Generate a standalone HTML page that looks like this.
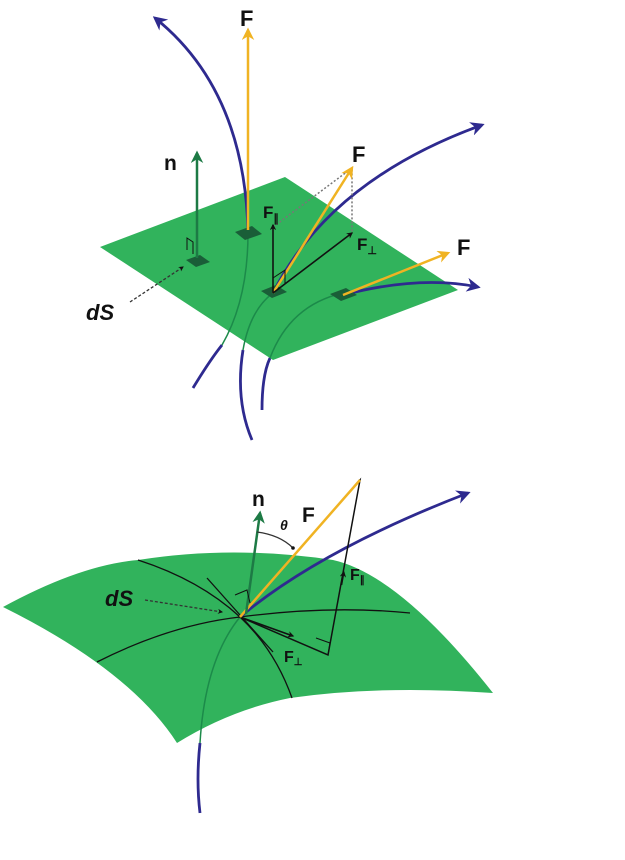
<!DOCTYPE html>
<html><head><style>
html,body{margin:0;padding:0;background:#fff;width:625px;height:860px;overflow:hidden}
svg text{font-family:"Liberation Sans",sans-serif;font-weight:bold;fill:#111}
</style></head><body>
<svg width="625" height="860" viewBox="0 0 625 860" xmlns="http://www.w3.org/2000/svg">
<defs>
<marker id="ab" viewBox="0 0 10 10" refX="8" refY="5" markerWidth="5" markerHeight="5" orient="auto"><path d="M0,0L10,5L0,10L3,5z" fill="#2e2a8f"/></marker>
<marker id="ay" viewBox="0 0 10 10" refX="8" refY="5" markerWidth="5" markerHeight="5" orient="auto"><path d="M0,0L10,5L0,10L3,5z" fill="#f0b323"/></marker>
<marker id="ag" viewBox="0 0 10 10" refX="8" refY="5" markerWidth="5" markerHeight="5" orient="auto"><path d="M0,0L10,5L0,10L3,5z" fill="#1d7a45"/></marker>
<marker id="ak" viewBox="0 0 10 10" refX="8" refY="5" markerWidth="4" markerHeight="4" orient="auto"><path d="M0,0L10,5L0,10L3,5z" fill="#111"/></marker>
</defs>
<!-- TOP -->
<path d="M193,388 Q210,360 222,345" stroke="#2e2a8f" stroke-width="2.8" fill="none"/>
<path d="M252,440 Q235,400 243,350" stroke="#2e2a8f" stroke-width="2.8" fill="none"/>
<path d="M262,410 Q262,375 270,358" stroke="#2e2a8f" stroke-width="2.8" fill="none"/>
<polygon points="100,247 285,177 458,290 273,360" fill="#31b35c"/>
<path d="M248,233 Q248,300 222,345" stroke="#1c8a4a" stroke-width="1.5" fill="none"/>
<path d="M243,350 Q250,310 273,293" stroke="#1c8a4a" stroke-width="1.5" fill="none"/>
<path d="M270,358 Q290,305 343,293" stroke="#1c8a4a" stroke-width="1.5" fill="none"/>
<path d="M248,233 Q245,90 155,18" stroke="#2e2a8f" stroke-width="2.8" fill="none" marker-end="url(#ab)"/>
<path d="M273,293 Q330,180 482,125" stroke="#2e2a8f" stroke-width="2.8" fill="none" marker-end="url(#ab)"/>
<path d="M343,295 Q420,275 478,287" stroke="#2e2a8f" stroke-width="2.8" fill="none" marker-end="url(#ab)"/>
<polygon points="235,232 252,226 262,234 245,240" fill="#1a5e38"/>
<polygon points="186,260 200,255 210,262 196,267" fill="#1a5e38"/>
<polygon points="261,291 276,285 287,292 272,298" fill="#1a5e38"/>
<polygon points="330,294 346,288 357,295 341,301" fill="#1a5e38"/>
<path d="M273,227 L352,168 L352,233" stroke="#777" stroke-width="1.5" stroke-dasharray="2,2" fill="none"/>
<path d="M130,302 L183,267" stroke="#333" stroke-width="1.3" stroke-dasharray="3,2" fill="none" marker-end="url(#ak)"/>
<line x1="197" y1="258" x2="197" y2="153" stroke="#1d7a45" stroke-width="2.5" marker-end="url(#ag)"/>
<path d="M187,250 L187,238 L193,242 L193,254" stroke="#111" stroke-width="1" fill="none"/>
<line x1="248" y1="230" x2="248" y2="30" stroke="#f0b323" stroke-width="2.5" marker-end="url(#ay)"/>
<line x1="273" y1="293" x2="352" y2="168" stroke="#f0b323" stroke-width="2.5" marker-end="url(#ay)"/>
<line x1="343" y1="295" x2="448" y2="253" stroke="#f0b323" stroke-width="2.5" marker-end="url(#ay)"/>
<line x1="273" y1="293" x2="273" y2="225" stroke="#111" stroke-width="1.6" marker-end="url(#ak)"/>
<line x1="273" y1="293" x2="352" y2="233" stroke="#111" stroke-width="1.6" marker-end="url(#ak)"/>
<path d="M273,278 L285,270 L285,284" stroke="#111" stroke-width="1" fill="none"/>
<text x="240" y="26" font-size="22">F</text>
<text x="352" y="162" font-size="22">F</text>
<text x="457" y="255" font-size="22">F</text>
<text x="164" y="170" font-size="21">n</text>
<text x="263" y="218" font-size="17">F<tspan font-size="11" dy="4">∥</tspan></text>
<text x="357" y="250" font-size="17">F<tspan font-size="11" dy="4">⊥</tspan></text>
<text x="86" y="320" font-size="22" font-style="italic" font-weight="normal">dS</text>
<!-- BOTTOM -->
<path d="M200,813 Q196,780 200,743" stroke="#2e2a8f" stroke-width="2.8" fill="none"/>
<path d="M3,607 Q80,565 138,560 Q233,545 333,560 Q400,575 493,693 Q380,685 290,698 Q230,710 177,743 Q130,670 3,607 Z" fill="#31b35c"/>
<path d="M200,743 Q205,660 240,617" stroke="#1c8a4a" stroke-width="1.5" fill="none"/>
<path d="M138,560 Q200,580 240,617 Q275,650 292,698" stroke="#111" stroke-width="1.3" fill="none"/>
<path d="M97,662 Q170,625 240,617 Q330,605 410,613" stroke="#111" stroke-width="1.3" fill="none"/>
<path d="M207,578 L273,652" stroke="#111" stroke-width="1.3" fill="none"/>
<path d="M240,617 Q320,550 468,493" stroke="#2e2a8f" stroke-width="2.8" fill="none" marker-end="url(#ab)"/>
<path d="M240,617 L360,480 L328,655 Z" stroke="#111" stroke-width="1.5" fill="none"/>
<line x1="240" y1="617" x2="293" y2="636" stroke="#111" stroke-width="1.6" marker-end="url(#ak)"/>
<line x1="341.5" y1="585" x2="343.8" y2="572" stroke="#111" stroke-width="1.6" marker-end="url(#ak)"/>
<path d="M316,638 L330,643 L328,655" stroke="#111" stroke-width="1" fill="none"/>
<line x1="240" y1="617" x2="360" y2="480" stroke="#f0b323" stroke-width="2.5"/>
<line x1="240" y1="617" x2="314" y2="533" stroke="#f0b323" stroke-width="0.1" marker-end="url(#ay)"/>
<line x1="246" y1="614" x2="260" y2="513" stroke="#1d7a45" stroke-width="2.5" marker-end="url(#ag)"/>
<path d="M235,595 L247,590 L250,603" stroke="#111" stroke-width="1" fill="none"/>
<path d="M257,532 Q280,535 293,548" stroke="#333" stroke-width="1.3" fill="none"/>
<circle cx="293" cy="548" r="1.8" fill="#111"/>
<path d="M145,600 L222,612" stroke="#333" stroke-width="1.3" stroke-dasharray="3,2" fill="none" marker-end="url(#ak)"/>
<text x="252" y="506" font-size="21">n</text>
<text x="302" y="522" font-size="21">F</text>
<text x="280" y="530" font-size="14" font-style="italic" font-family="Liberation Serif" font-weight="normal">θ</text>
<text x="350" y="580" font-size="16">F<tspan font-size="10" dy="3">∥</tspan></text>
<text x="284" y="662" font-size="16">F<tspan font-size="10" dy="3">⊥</tspan></text>
<text x="105" y="606" font-size="22" font-style="italic" font-weight="normal">dS</text>
</svg>
</body></html>
